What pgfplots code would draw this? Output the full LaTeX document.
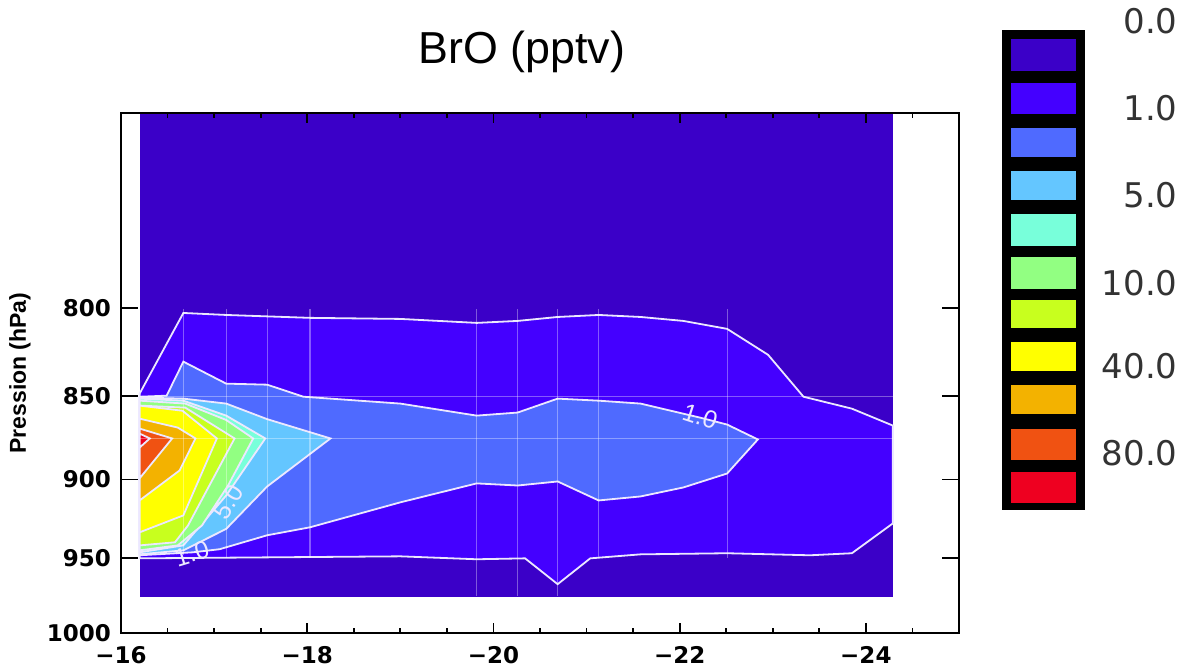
\documentclass[border=0pt]{standalone}
\usepackage{pgfplots}
\pgfplotsset{compat=1.18}
\usepackage{fontspec}
\setmainfont{Liberation Sans}
\newfontfamily\dejavu{DejaVu Sans}

\definecolor{c1}{RGB}{59,0,200}
\definecolor{c2}{RGB}{68,0,255}
\definecolor{c3}{RGB}{79,106,255}
\definecolor{c4}{RGB}{100,198,255}
\definecolor{c5}{RGB}{120,255,218}
\definecolor{c6}{RGB}{146,255,130}
\definecolor{c7}{RGB}{200,255,30}
\definecolor{c8}{RGB}{255,255,0}
\definecolor{c9}{RGB}{243,178,0}
\definecolor{c10}{RGB}{240,82,18}
\definecolor{c11}{RGB}{238,0,32}
\definecolor{cline}{RGB}{236,232,255}

\begin{document}
\begin{tikzpicture}
\path[use as bounding box] (0,0) rectangle (595.5pt,334pt);
\begin{axis}[
  at={(60.5pt,17.5pt)}, anchor=south west,
  scale only axis, width=419pt, height=260pt,
  xmin=-25, xmax=-16, x dir=reverse,
  ymode=log, ymin=700, ymax=1000, y dir=reverse,
  xtick={-24,-22,-20,-18,-16},
  xticklabels={−24,−22,−20,−18,−16},
  minor xtick={-16.5,-17,-17.5,-18.5,-19,-19.5,-20.5,-21,-21.5,-22.5,-23,-23.5,-24.5},
  ytick={800,850,900,950,1000},
  yticklabels={800,850,900,950,1000},
  yminorticks=false,
  tick align=inside,
  major tick length=5pt, minor tick length=2.5pt,
  ytick style={/pgfplots/major tick length=8.5pt},
  tick style={black, line width=0.9pt},
  axis line style={black, line width=0.8pt},
  axis on top,
  xticklabel style={font=\dejavu\bfseries\fontsize{11.5pt}{12pt}\selectfont, yshift=-3pt},
  yticklabel style={font=\dejavu\bfseries\fontsize{11.5pt}{12pt}\selectfont, xshift=-1.5pt},
  ylabel={Pression (hPa)},
  ylabel style={font=\bfseries\fontsize{11.5pt}{12pt}\selectfont, at={(axis description cs:0,0.5)}, anchor=center, yshift=50.5pt},
  title={BrO (pptv)},
  title style={font=\fontsize{22.4pt}{26pt}\selectfont, at={(axis description cs:0.4785,1)}, anchor=base, yshift=19pt},
]
% background level (0-1)
\addplot[fill=c1, draw=none] coordinates {(-16.2,700) (-24.29,700) (-24.29,975.7) (-16.2,975.7)} -- cycle;
% level 2
\addplot[fill=c2, draw=cline, line width=0.9pt] coordinates {
(-16.2,848.5) (-16.67,802.8) (-17.13,803.9) (-18.03,805.5) (-19.0,806.1) (-19.82,808.3) (-20.26,807.2) (-20.69,805.0) (-21.13,803.9) (-21.58,805.0) (-22.04,807.2) (-22.51,811.6) (-22.95,826.2) (-23.33,850.3) (-23.85,857.3) (-24.29,867.3) (-24.29,927.5) (-23.85,946.7) (-23.40,948.0) (-22.51,946.7) (-21.58,947.4) (-21.04,950.0) (-20.69,967.0) (-20.34,950.0) (-19.82,950.6) (-19.0,948.7) (-16.2,950.0)} -- cycle;
% level 3 (1.0)
\addplot[fill=c3, draw=cline, line width=0.9pt] coordinates {
(-16.2,850.3) (-16.49,849.7) (-16.67,830.1) (-17.13,842.7) (-17.57,843.3) (-17.96,850.3) (-19.0,854.3) (-19.82,861.4) (-20.26,859.6) (-20.69,851.4) (-21.13,852.6) (-21.58,854.3) (-22.22,862.6) (-22.51,866.7) (-22.84,875.6) (-22.51,896.3) (-22.04,904.9) (-21.58,910.5) (-21.13,913.0) (-20.69,901.2) (-20.26,903.7) (-19.82,902.4) (-19.0,914.2) (-18.03,930.0) (-17.57,935.1) (-17.06,944.1) (-16.77,946.1) (-16.2,948.0)} -- cycle;
% level 4
\addplot[fill=c4, draw=cline, line width=0.9pt] coordinates {
(-16.2,850.8) (-16.67,851.4) (-17.13,854.3) (-17.57,863.5) (-18.25,875) (-17.57,904.3) (-17.13,931) (-16.67,944.8) (-16.2,947.4)} -- cycle;
% level 5 (5.0)
\addplot[fill=c5, draw=cline, line width=0.9pt] coordinates {
(-16.2,851.4) (-16.67,852.6) (-17.13,861.4) (-17.55,875) (-17.13,909.9) (-16.67,941.6) (-16.2,946.1)} -- cycle;
% level 6
\addplot[fill=c6, draw=cline, line width=0.9pt] coordinates {
(-16.2,852.6) (-16.69,854.3) (-17.13,864) (-17.42,875) (-17.15,903.7) (-16.87,928.8) (-16.61,941.6) (-16.2,944.8)} -- cycle;
% level 7
\addplot[fill=c7, draw=cline, line width=0.9pt] coordinates {
(-16.2,855.5) (-16.69,856.7) (-17.22,875) (-16.72,928.8) (-16.58,939.6) (-16.2,941.6)} -- cycle;
% level 8
\addplot[fill=c8, draw=cline, line width=0.9pt] coordinates {
(-16.2,855.5) (-16.66,858.5) (-17.03,875) (-16.67,922.4) (-16.2,933.2)} -- cycle;
% level 9
\addplot[fill=c9, draw=cline, line width=0.9pt] coordinates {
(-16.2,863.2) (-16.61,868.5) (-16.8,875) (-16.63,894.4) (-16.2,913)} -- cycle;
% level 10
\addplot[fill=c10, draw=cline, line width=0.9pt] coordinates {
(-16.2,869.1) (-16.55,875) (-16.2,899.3)} -- cycle;
% level 11
\addplot[fill=c11, draw=cline, line width=0.9pt] coordinates {
(-16.2,872.1) (-16.31,875) (-16.2,880.5)} -- cycle;
% sampling grid
\addplot[white, opacity=0.35, line width=0.6pt] coordinates {(-16.67,800.6) (-16.67,948)};
\addplot[white, opacity=0.35, line width=0.6pt] coordinates {(-17.13,800.6) (-17.13,950)};
\addplot[white, opacity=0.35, line width=0.6pt] coordinates {(-17.57,800.6) (-17.57,950)};
\addplot[white, opacity=0.35, line width=0.6pt] coordinates {(-18.03,800.6) (-18.03,950)};
\addplot[white, opacity=0.35, line width=0.6pt] coordinates {(-19.82,800.6) (-19.82,975)};
\addplot[white, opacity=0.35, line width=0.6pt] coordinates {(-20.26,800.6) (-20.26,975)};
\addplot[white, opacity=0.35, line width=0.6pt] coordinates {(-20.69,800.6) (-20.69,975)};
\addplot[white, opacity=0.35, line width=0.6pt] coordinates {(-21.13,800.6) (-21.13,950)};
\addplot[white, opacity=0.35, line width=0.6pt] coordinates {(-22.51,800.6) (-22.51,950)};
\addplot[white, opacity=0.35, line width=0.6pt] coordinates {(-16.2,850.3) (-24.29,850.3)};
\addplot[white, opacity=0.35, line width=0.6pt] coordinates {(-16.2,875) (-24.29,875)};
% contour labels
\node[text=cline, font=\fontsize{12.5pt}{13pt}\selectfont, rotate=-18, inner sep=0pt] at (axis cs:-22.22,862) {1.0};
\node[text=cline, font=\fontsize{12.5pt}{13pt}\selectfont, rotate=58, inner sep=0pt] at (axis cs:-17.15,914) {5.0};
\node[text=cline, font=\fontsize{12.5pt}{13pt}\selectfont, rotate=17, inner sep=0pt] at (axis cs:-16.76,947) {1.0};
\end{axis}

% colour bar
\begin{axis}[
  at={(501pt,319pt)}, anchor=north west,
  scale only axis, width=41.5pt, height=240pt,
  xmin=1002, xmax=1085, ymin=30, ymax=510, y dir=reverse,
  hide axis, clip=false,
]
\addplot[fill=black, draw=none] coordinates {(1002,30) (1085,30) (1085,510) (1002,510)} -- cycle;
\addplot[fill=c1, draw=none] coordinates {(1011,39) (1076,39) (1076,71) (1011,71)} -- cycle;
\addplot[fill=c2, draw=none] coordinates {(1011,83) (1076,83) (1076,114) (1011,114)} -- cycle;
\addplot[fill=c3, draw=none] coordinates {(1011,128) (1076,128) (1076,157) (1011,157)} -- cycle;
\addplot[fill=c4, draw=none] coordinates {(1011,171) (1076,171) (1076,200) (1011,200)} -- cycle;
\addplot[fill=c5, draw=none] coordinates {(1011,214) (1076,214) (1076,246) (1011,246)} -- cycle;
\addplot[fill=c6, draw=none] coordinates {(1011,257) (1076,257) (1076,289) (1011,289)} -- cycle;
\addplot[fill=c7, draw=none] coordinates {(1011,300) (1076,300) (1076,328) (1011,328)} -- cycle;
\addplot[fill=c8, draw=none] coordinates {(1011,342) (1076,342) (1076,371) (1011,371)} -- cycle;
\addplot[fill=c9, draw=none] coordinates {(1011,385) (1076,385) (1076,414) (1011,414)} -- cycle;
\addplot[fill=c10, draw=none] coordinates {(1011,429) (1076,429) (1076,460) (1011,460)} -- cycle;
\addplot[fill=c11, draw=none] coordinates {(1011,472) (1076,472) (1076,503) (1011,503)} -- cycle;
\node[anchor=east, inner sep=0pt, text=black!80, font=\dejavu\fontsize{17pt}{18pt}\selectfont] at (axis cs:1178,21) {0.0};
\node[anchor=east, inner sep=0pt, text=black!80, font=\dejavu\fontsize{17pt}{18pt}\selectfont] at (axis cs:1178,108) {1.0};
\node[anchor=east, inner sep=0pt, text=black!80, font=\dejavu\fontsize{17pt}{18pt}\selectfont] at (axis cs:1178,195) {5.0};
\node[anchor=east, inner sep=0pt, text=black!80, font=\dejavu\fontsize{17pt}{18pt}\selectfont] at (axis cs:1178,283) {10.0};
\node[anchor=east, inner sep=0pt, text=black!80, font=\dejavu\fontsize{17pt}{18pt}\selectfont] at (axis cs:1178,366) {40.0};
\node[anchor=east, inner sep=0pt, text=black!80, font=\dejavu\fontsize{17pt}{18pt}\selectfont] at (axis cs:1178,453) {80.0};
\end{axis}
\end{tikzpicture}
\end{document}
